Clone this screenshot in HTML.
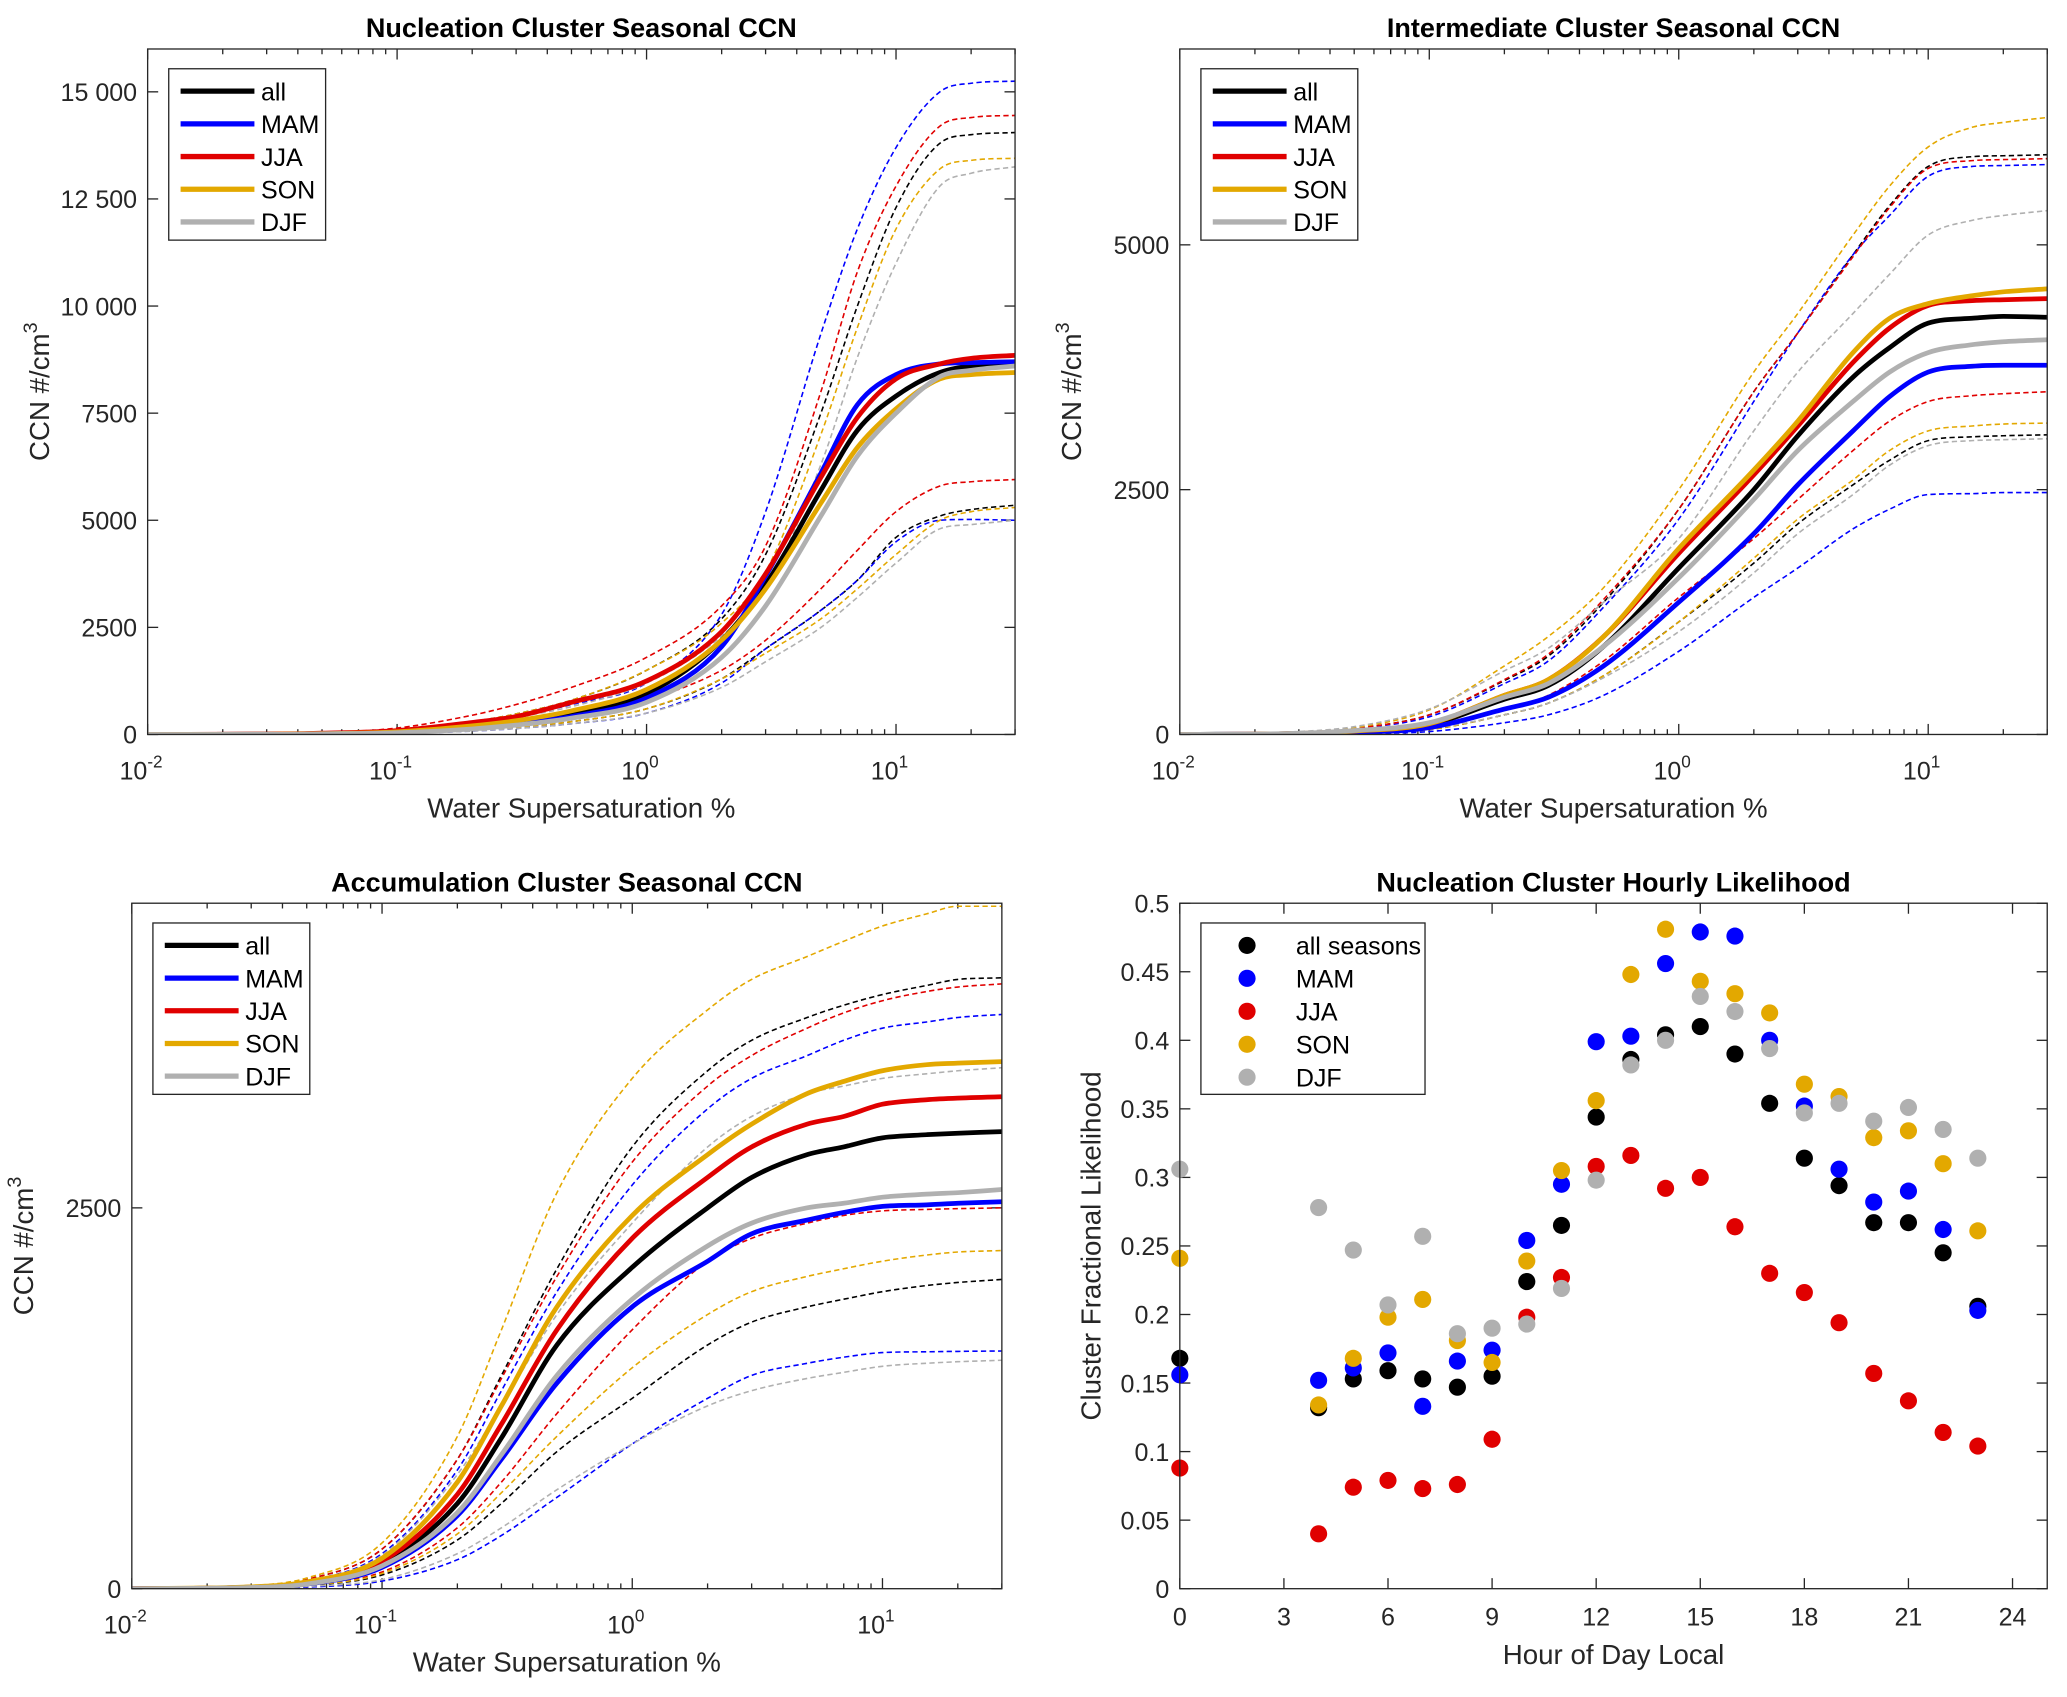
<!DOCTYPE html>
<html><head><meta charset="utf-8"><style>
html,body{margin:0;padding:0;background:#fff;}
svg{display:block;font-family:"Liberation Sans",Arial,sans-serif;}
</style></head><body>
<svg id="fig" width="2067" height="1697" viewBox="0 0 1568 1287" xmlns="http://www.w3.org/2000/svg"></svg>
<script>
// ---------- data ----------
const ssGrid = [0.01,0.03,0.05,0.1,0.2,0.3,0.5,1,2,3,5,7,10,15,20,30];
const seasons = ['all','MAM','JJA','SON','DJF'];
// Nucleation
const nucMean = {
 all:[0,5,20,60,180,280,470,950,2200,3500,5700,7100,7900,8450,8600,8650],
 MAM:[0,5,20,50,150,250,420,850,2050,3700,6100,7700,8400,8650,8680,8700],
 JJA:[0,8,30,90,280,420,750,1250,2400,3750,6000,7400,8300,8650,8780,8850],
 SON:[0,5,20,60,200,320,550,1050,2200,3400,5400,6700,7600,8300,8400,8450],
 DJF:[0,3,15,40,130,220,380,750,1800,3000,5100,6500,7500,8350,8500,8600]};
const nucUpper = {
 all:[0,8,30,90,300,480,800,1500,2700,4200,7500,10000,12300,13800,14000,14050],
 MAM:[0,6,25,70,250,420,700,1200,2800,5200,9350,11800,13700,15000,15200,15250],
 JJA:[0,10,40,150,450,700,1100,1800,3000,4400,8000,10800,12800,14200,14400,14450],
 SON:[0,8,30,90,300,480,800,1500,2600,3800,7000,9500,11800,13200,13400,13450],
 DJF:[0,6,25,70,250,400,650,1200,2300,3400,6300,8800,11000,12800,13100,13250]};
const nucLower = {
 all:[0,2,10,30,100,170,300,600,1300,2000,2900,3600,4600,5100,5250,5350],
 MAM:[0,2,8,25,80,140,250,500,1200,2000,2900,3600,4500,5000,5020,5000],
 JJA:[0,3,12,40,130,220,400,800,1500,2200,3400,4300,5200,5800,5900,5950],
 SON:[0,2,10,30,100,170,300,600,1300,1900,2700,3400,4200,5000,5200,5300],
 DJF:[0,2,8,25,80,140,250,500,1100,1700,2500,3200,4000,4800,4900,5000]};
// Intermediate
const intMean = {
 all:[0,10,30,100,360,500,900,1700,2500,3050,3650,3950,4200,4250,4270,4260],
 MAM:[0,5,20,70,260,380,700,1350,2050,2550,3100,3450,3700,3760,3770,3770],
 JJA:[0,10,35,110,400,560,1000,1850,2650,3150,3800,4150,4380,4430,4440,4450],
 SON:[0,10,35,110,400,560,1000,1900,2700,3200,3900,4250,4400,4480,4520,4550],
 DJF:[0,12,40,120,380,520,900,1600,2400,2900,3400,3700,3900,3980,4010,4030]};
const intUpper = {
 all:[0,20,60,200,550,800,1350,2300,3500,4100,4900,5400,5800,5900,5910,5920],
 MAM:[0,20,60,180,520,750,1300,2200,3400,4100,4900,5300,5700,5800,5810,5820],
 JJA:[0,20,60,200,560,820,1380,2300,3500,4100,4880,5380,5780,5860,5870,5880],
 SON:[0,25,70,250,700,1000,1500,2500,3700,4300,5100,5600,6000,6200,6250,6300],
 DJF:[0,30,80,260,650,880,1350,2000,3100,3700,4300,4700,5100,5250,5300,5350]};
const intLower = {
 all:[0,5,15,50,200,320,600,1150,1750,2150,2550,2800,3000,3040,3050,3060],
 MAM:[0,3,8,30,120,200,400,850,1400,1700,2100,2300,2450,2460,2470,2470],
 JJA:[0,5,20,60,250,400,750,1400,2000,2400,2900,3200,3400,3460,3480,3500],
 SON:[0,5,15,50,200,320,600,1150,1800,2200,2600,2900,3100,3150,3170,3180],
 DJF:[0,6,20,60,200,320,580,1050,1650,2050,2450,2750,2950,3000,3010,3020]};
// Accumulation
const accMean = {
 all:[0,10,40,170,560,990,1600,2110,2500,2700,2850,2900,2960,2980,2990,3000],
 MAM:[0,8,30,140,480,850,1350,1850,2150,2330,2420,2470,2510,2520,2530,2540],
 JJA:[0,10,40,180,620,1080,1700,2300,2700,2900,3050,3100,3180,3210,3220,3230],
 SON:[0,12,45,200,700,1200,1850,2450,2850,3050,3250,3330,3400,3440,3450,3460],
 DJF:[0,8,30,150,500,880,1400,1900,2250,2400,2500,2530,2570,2590,2600,2620]};
const accUpper = {
 all:[0,15,60,260,850,1400,2100,2900,3400,3600,3750,3830,3900,3960,4000,4010],
 MAM:[0,12,50,230,780,1300,1950,2650,3150,3350,3500,3600,3680,3720,3750,3770],
 JJA:[0,15,60,260,850,1380,2050,2800,3300,3500,3680,3780,3860,3920,3950,3970],
 SON:[0,20,70,300,1000,1700,2600,3350,3800,4000,4150,4250,4350,4430,4480,4480],
 DJF:[0,12,50,220,750,1200,1800,2400,2900,3100,3250,3300,3350,3380,3400,3420]};
const accLower = {
 all:[0,5,20,90,320,560,900,1250,1600,1750,1850,1900,1950,1990,2010,2030],
 MAM:[0,3,10,50,190,350,600,950,1250,1400,1480,1520,1550,1555,1558,1560],
 JJA:[0,6,25,110,400,700,1150,1700,2150,2300,2400,2450,2480,2490,2495,2500],
 SON:[0,5,22,100,360,630,1000,1450,1800,1950,2050,2100,2150,2190,2210,2220],
 DJF:[0,4,15,60,230,400,650,950,1200,1300,1380,1420,1460,1480,1490,1500]};
// Hourly likelihood
const hours = [0,4,5,6,7,8,9,10,11,12,13,14,15,16,17,18,19,20,21,22,23];
const hourAll = [0.168,0.132,0.153,0.159,0.153,0.147,0.155,0.224,0.265,0.344,0.386,0.404,0.410,0.390,0.354,0.314,0.294,0.267,0.267,0.245,0.206];
const hourMAM = [0.156,0.152,0.161,0.172,0.133,0.166,0.174,0.254,0.295,0.399,0.403,0.456,0.479,0.476,0.400,0.352,0.306,0.282,0.290,0.262,0.203];
const hourJJA = [0.088,0.040,0.074,0.079,0.073,0.076,0.109,0.198,0.227,0.308,0.316,0.292,0.300,0.264,0.230,0.216,0.194,0.157,0.137,0.114,0.104];
const hourSON = [0.241,0.134,0.168,0.198,0.211,0.181,0.165,0.239,0.305,0.356,0.448,0.481,0.443,0.434,0.420,0.368,0.359,0.329,0.334,0.310,0.261];
const hourDJF = [0.306,0.278,0.247,0.207,0.257,0.186,0.190,0.193,0.219,0.298,0.382,0.400,0.432,0.421,0.394,0.347,0.354,0.341,0.351,0.335,0.314];
const hourTicks = [0,3,6,9,12,15,18,21,24];
const likeTicks = [0,0.05,0.1,0.15,0.2,0.25,0.3,0.35,0.4,0.45,0.5];
const likeTickLabels = ['0','0.05','0.1','0.15','0.2','0.25','0.3','0.35','0.4','0.45','0.5'];

const colors = {all:'#000000',MAM:'#0000ff',JJA:'#e00000',SON:'#e3a800',DJF:'#b0b0b0'};
const NS='http://www.w3.org/2000/svg';
const fig=document.getElementById('fig');
const TICKFS=19, TITLEFS=20.5, AXFS=21;
function mk(tag,attrs,parent){const e=document.createElementNS(NS,tag);for(const k in attrs)e.setAttribute(k,attrs[k]);(parent||fig).appendChild(e);return e;}

// monotone cubic (Fritsch-Carlson) path through pixel points
function smoothPath(P){
  const n=P.length;const d=[],m=[];
  for(let i=0;i<n-1;i++)d.push((P[i+1][1]-P[i][1])/(P[i+1][0]-P[i][0]));
  m[0]=d[0];m[n-1]=d[n-2];
  for(let i=1;i<n-1;i++){m[i]=(d[i-1]*d[i]<=0)?0:(d[i-1]+d[i])/2;}
  for(let i=0;i<n-1;i++){
    if(d[i]===0){m[i]=0;m[i+1]=0;continue;}
    const a=m[i]/d[i],b=m[i+1]/d[i],s=a*a+b*b;
    if(s>9){const t=3/Math.sqrt(s);m[i]=t*a*d[i];m[i+1]=t*b*d[i];}
  }
  let s='M'+P[0][0].toFixed(1)+','+P[0][1].toFixed(1);
  for(let i=0;i<n-1;i++){
    const h=(P[i+1][0]-P[i][0])/3;
    s+=' C'+(P[i][0]+h).toFixed(1)+','+(P[i][1]+m[i]*h).toFixed(1)+' '+(P[i+1][0]-h).toFixed(1)+','+(P[i+1][1]-m[i+1]*h).toFixed(1)+' '+P[i+1][0].toFixed(1)+','+P[i+1][1].toFixed(1);
  }
  return s;
}

function axesBox(g,x0,y0,x1,y1){
  const r=mk('rect',{x:x0,y:y0,width:x1-x0,height:y1-y0,fill:'none',stroke:'#262626','stroke-width':1},g);
  
  
}
function tickLine(g,x1,y1,x2,y2){
  const l=mk('line',{x1:x1,y1:y1,x2:x2,y2:y2,stroke:'#262626','stroke-width':1},g);
  
  
}
function txt(g,x,y,s,opts){
  const t=mk('text',Object.assign({x:x,y:y,'font-size':TICKFS,fill:'#262626'},opts||{}),g);
  t.textContent=s;
  return t;
}

function ccnPanel(name,title,box,ymax,yticks,ylabels,mean,upper,lower){
  const [x0,y0,x1,y1]=box;
  const g=mk('g',{});
  
  
  const lx0=-2,lx1=Math.log10(30);
  const X=v=>x0+(Math.log10(v)-lx0)/(lx1-lx0)*(x1-x0);
  const Y=v=>y1-v/ymax*(y1-y0);
  const tt=txt(g,(x0+x1)/2,y0-9,title,{'font-size':TITLEFS,'font-weight':'bold','text-anchor':'middle',fill:'#000'});
  
  
  for(let d=-2;d<=1;d++){
    const xp=X(Math.pow(10,d));
    tickLine(g,xp,y1,xp,y1-8);tickLine(g,xp,y0,xp,y0+8);
    const lb=txt(g,xp-5,y1+34,'10',{'text-anchor':'middle'});
    const sp=mk('tspan',{dy:-9,'font-size':13},lb);sp.textContent=String(d);
    
    
    for(let m=2;m<=9;m++){const v=m*Math.pow(10,d);if(v>30)break;const xm=X(v);tickLine(g,xm,y1,xm,y1-4);tickLine(g,xm,y0,xm,y0+4);}
  }
  yticks.forEach((v,i)=>{
    const yp=Y(v);
    tickLine(g,x0,yp,x0+8,yp);tickLine(g,x1,yp,x1-8,yp);
    const lb=txt(g,x0-8,yp+7,ylabels[i],{'text-anchor':'end'});
    
    
  });
  const clip='clip-'+name;
  const cp=mk('clipPath',{id:clip},g);mk('rect',{x:x0,y:y0,width:x1-x0,height:y1-y0},cp);
  const pth=arr=>smoothPath(arr.map((v,i)=>[X(ssGrid[i]),Y(v)]));
  seasons.forEach(s=>{
    [upper,lower].forEach((src,k)=>{
      const p=mk('path',{d:pth(src[s]),fill:'none',stroke:colors[s],'stroke-width':1.2,'stroke-dasharray':'4,2.5','clip-path':'url(#'+clip+')'},g);
      
      
    });
  });
  seasons.forEach(s=>{
    const p=mk('path',{d:pth(mean[s]),fill:'none',stroke:colors[s],'stroke-width':3.6,'stroke-linejoin':'round','clip-path':'url(#'+clip+')'},g);
    
    
  });
  axesBox(g,x0,y0,x1,y1);
  const xt=txt(g,(x0+x1)/2,y1+63,'Water Supersaturation %',{'font-size':AXFS,'text-anchor':'middle'});
  
  
  const yt=txt(g,0,0,'CCN #/cm',{'font-size':AXFS,'text-anchor':'middle',transform:'translate('+(x0-75)+','+((y0+y1)/2)+') rotate(-90)'});
  const sup=mk('tspan',{dy:-9,'font-size':15},yt);sup.textContent='3';
  
  
  const lgx=x0+16,lgy=y0+15;
  const lg=mk('g',{});g.appendChild(lg);
  
  
  mk('rect',{x:lgx,y:lgy,width:119,height:130,fill:'#fff',stroke:'#262626','stroke-width':1},lg);
  seasons.forEach((s,i)=>{
    const yy=lgy+17+i*24.8;
    const ln=mk('line',{x1:lgx+9,y1:yy,x2:lgx+65,y2:yy,stroke:colors[s],'stroke-width':4},lg);
    
    
    const lt=txt(lg,lgx+70,yy+7,s,{fill:'#000'});
    
    
  });
}

ccnPanel('nucleation-ccn-panel','Nucleation Cluster Seasonal CCN',[112,37,770,557],16000,[0,2500,5000,7500,10000,12500,15000],['0','2500','5000','7500','10 000','12 500','15 000'],nucMean,nucUpper,nucLower);
ccnPanel('intermediate-ccn-panel','Intermediate Cluster Seasonal CCN',[895,37,1553,557],7000,[0,2500,5000],['0','2500','5000'],intMean,intUpper,intLower);
ccnPanel('accumulation-ccn-panel','Accumulation Cluster Seasonal CCN',[100,685,760,1205],4500,[0,2500],['0','2500'],accMean,accUpper,accLower);

(function(){
  const x0=895,y0=685,x1=1553,y1=1205;
  const g=mk('g',{});
  
  
  const X=h=>x0+h/25*(x1-x0);
  const Y=v=>y1-v/0.5*(y1-y0);
  const tt=txt(g,(x0+x1)/2,y0-9,'Nucleation Cluster Hourly Likelihood',{'font-size':TITLEFS,'font-weight':'bold','text-anchor':'middle',fill:'#000'});
  
  
  hourTicks.forEach(h=>{
    const xp=X(h);tickLine(g,xp,y1,xp,y1-8);tickLine(g,xp,y0,xp,y0+8);
    const lb=txt(g,xp,y1+28,String(h),{'text-anchor':'middle'});
    
    
  });
  likeTicks.forEach((v,i)=>{
    const yp=Y(v);tickLine(g,x0,yp,x0+8,yp);tickLine(g,x1,yp,x1-8,yp);
    const lb=txt(g,x0-8,yp+7,likeTickLabels[i],{'text-anchor':'end'});
    
    
  });
  const series=[['all',hourAll],['MAM',hourMAM],['JJA',hourJJA],['SON',hourSON],['DJF',hourDJF]];
  series.forEach(([s,vals])=>{
    vals.forEach((v,i)=>{
      const c=mk('circle',{cx:X(hours[i]),cy:Y(v),r:6.5,fill:colors[s]},g);
      
      
    });
  });
  axesBox(g,x0,y0,x1,y1);
  const xt=txt(g,(x0+x1)/2,y1+57,'Hour of Day Local',{'font-size':AXFS,'text-anchor':'middle'});
  
  
  const yt=txt(g,0,0,'Cluster Fractional Likelihood',{'font-size':AXFS,'text-anchor':'middle',transform:'translate('+(x0-60)+','+((y0+y1)/2)+') rotate(-90)'});
  
  
  const lg=mk('g',{});g.appendChild(lg);
  
  
  mk('rect',{x:911,y:700,width:170,height:130,fill:'#fff',stroke:'#262626','stroke-width':1},lg);
  const names=['all seasons','MAM','JJA','SON','DJF'];
  seasons.forEach((s,i)=>{
    const yy=717+i*25;
    const c=mk('circle',{cx:946,cy:yy,r:6.5,fill:colors[s]},lg);
    
    
    const lt=txt(lg,983,yy+7,names[i],{fill:'#000'});
    
    
  });
})();
</script>
</body></html>
